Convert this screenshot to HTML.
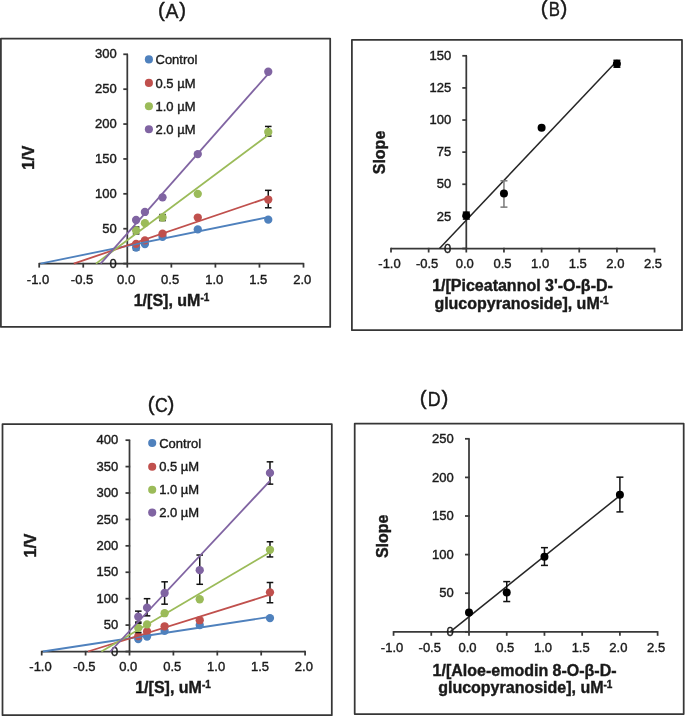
<!DOCTYPE html>
<html><head><meta charset="utf-8"><title>Lineweaver-Burk plots</title>
<style>
html,body{margin:0;padding:0;background:#fff;}
body{width:685px;height:716px;overflow:hidden;}
svg{display:block;font-family:"Liberation Sans", sans-serif;filter:blur(0.45px);}
svg text{stroke:#1a1a1a;stroke-width:0.4px;}
</style></head><body>
<svg width="685" height="716" viewBox="0 0 685 716">
<rect width="685" height="716" fill="#fff"/>
<rect x="0.9" y="38.5" width="329.3" height="288.4" fill="none" stroke="#363636" stroke-width="1.75" stroke-linejoin="round"/>
<line x1="39.2" y1="263.6" x2="303.5" y2="263.6" stroke="#383838" stroke-width="1.75"/>
<line x1="127.3" y1="263.6" x2="127.3" y2="54.29" stroke="#383838" stroke-width="1.75"/>
<line x1="39.2" y1="262.9" x2="39.2" y2="267.6" stroke="#383838" stroke-width="1.75"/>
<text x="38" y="283.6" font-size="13" text-anchor="middle" font-weight="normal" fill="#1a1a1a" >-1.0</text>
<line x1="83.25" y1="262.9" x2="83.25" y2="267.6" stroke="#383838" stroke-width="1.75"/>
<text x="82.05" y="283.6" font-size="13" text-anchor="middle" font-weight="normal" fill="#1a1a1a" >-0.5</text>
<line x1="127.3" y1="262.9" x2="127.3" y2="267.6" stroke="#383838" stroke-width="1.75"/>
<text x="126.1" y="283.6" font-size="13" text-anchor="middle" font-weight="normal" fill="#1a1a1a" >0.0</text>
<line x1="171.35" y1="262.9" x2="171.35" y2="267.6" stroke="#383838" stroke-width="1.75"/>
<text x="170.15" y="283.6" font-size="13" text-anchor="middle" font-weight="normal" fill="#1a1a1a" >0.5</text>
<line x1="215.4" y1="262.9" x2="215.4" y2="267.6" stroke="#383838" stroke-width="1.75"/>
<text x="214.2" y="283.6" font-size="13" text-anchor="middle" font-weight="normal" fill="#1a1a1a" >1.0</text>
<line x1="259.45" y1="262.9" x2="259.45" y2="267.6" stroke="#383838" stroke-width="1.75"/>
<text x="258.25" y="283.6" font-size="13" text-anchor="middle" font-weight="normal" fill="#1a1a1a" >1.5</text>
<line x1="303.5" y1="262.9" x2="303.5" y2="267.6" stroke="#383838" stroke-width="1.75"/>
<text x="302.3" y="283.6" font-size="13" text-anchor="middle" font-weight="normal" fill="#1a1a1a" >2.0</text>
<line x1="123.3" y1="263.6" x2="128" y2="263.6" stroke="#383838" stroke-width="1.75"/>
<text x="116.7" y="267.75" font-size="13" text-anchor="end" font-weight="normal" fill="#1a1a1a" >0</text>
<line x1="123.3" y1="228.72" x2="128" y2="228.72" stroke="#383838" stroke-width="1.75"/>
<text x="116.7" y="232.87" font-size="13" text-anchor="end" font-weight="normal" fill="#1a1a1a" >50</text>
<line x1="123.3" y1="193.83" x2="128" y2="193.83" stroke="#383838" stroke-width="1.75"/>
<text x="116.7" y="197.98" font-size="13" text-anchor="end" font-weight="normal" fill="#1a1a1a" >100</text>
<line x1="123.3" y1="158.95" x2="128" y2="158.95" stroke="#383838" stroke-width="1.75"/>
<text x="116.7" y="163.1" font-size="13" text-anchor="end" font-weight="normal" fill="#1a1a1a" >150</text>
<line x1="123.3" y1="124.06" x2="128" y2="124.06" stroke="#383838" stroke-width="1.75"/>
<text x="116.7" y="128.21" font-size="13" text-anchor="end" font-weight="normal" fill="#1a1a1a" >200</text>
<line x1="123.3" y1="89.18" x2="128" y2="89.18" stroke="#383838" stroke-width="1.75"/>
<text x="116.7" y="93.33" font-size="13" text-anchor="end" font-weight="normal" fill="#1a1a1a" >250</text>
<line x1="123.3" y1="54.29" x2="128" y2="54.29" stroke="#383838" stroke-width="1.75"/>
<text x="116.7" y="58.44" font-size="13" text-anchor="end" font-weight="normal" fill="#1a1a1a" >300</text>
<line x1="136.11" y1="249.99" x2="136.11" y2="245.11" stroke="#111" stroke-width="1.5"/>
<line x1="132.81" y1="249.99" x2="139.41" y2="249.99" stroke="#111" stroke-width="1.5"/>
<line x1="132.81" y1="245.11" x2="139.41" y2="245.11" stroke="#111" stroke-width="1.5"/>
<circle cx="136.11" cy="247.55" r="4.15" fill="#4F81BD"/>
<circle cx="144.92" cy="244.06" r="4.15" fill="#4F81BD"/>
<circle cx="162.54" cy="236.74" r="4.15" fill="#4F81BD"/>
<circle cx="197.78" cy="229.41" r="4.15" fill="#4F81BD"/>
<circle cx="268.26" cy="219.64" r="4.15" fill="#4F81BD"/>
<line x1="268.26" y1="207.78" x2="268.26" y2="190.34" stroke="#111" stroke-width="1.5"/>
<line x1="264.96" y1="207.78" x2="271.56" y2="207.78" stroke="#111" stroke-width="1.5"/>
<line x1="264.96" y1="190.34" x2="271.56" y2="190.34" stroke="#111" stroke-width="1.5"/>
<circle cx="136.11" cy="243.86" r="4.15" fill="#C0504D"/>
<circle cx="144.92" cy="240.37" r="4.15" fill="#C0504D"/>
<circle cx="162.54" cy="233.6" r="4.15" fill="#C0504D"/>
<circle cx="197.78" cy="217.55" r="4.15" fill="#C0504D"/>
<circle cx="268.26" cy="199.55" r="4.15" fill="#C0504D"/>
<line x1="268.26" y1="136.06" x2="268.26" y2="126.43" stroke="#111" stroke-width="1.5"/>
<line x1="264.96" y1="136.06" x2="271.56" y2="136.06" stroke="#111" stroke-width="1.5"/>
<line x1="264.96" y1="126.43" x2="271.56" y2="126.43" stroke="#111" stroke-width="1.5"/>
<line x1="136.11" y1="233.88" x2="136.11" y2="227.04" stroke="#111" stroke-width="1.5"/>
<line x1="132.81" y1="233.88" x2="139.41" y2="233.88" stroke="#111" stroke-width="1.5"/>
<line x1="132.81" y1="227.04" x2="139.41" y2="227.04" stroke="#111" stroke-width="1.5"/>
<line x1="162.54" y1="220.55" x2="162.54" y2="214.55" stroke="#111" stroke-width="1.5"/>
<line x1="159.24" y1="220.55" x2="165.84" y2="220.55" stroke="#111" stroke-width="1.5"/>
<line x1="159.24" y1="214.55" x2="165.84" y2="214.55" stroke="#111" stroke-width="1.5"/>
<circle cx="136.11" cy="230.46" r="4.15" fill="#9BBB59"/>
<circle cx="144.92" cy="223.13" r="4.15" fill="#9BBB59"/>
<circle cx="162.54" cy="217.55" r="4.15" fill="#9BBB59"/>
<circle cx="197.78" cy="193.83" r="4.15" fill="#9BBB59"/>
<circle cx="268.26" cy="132.01" r="4.15" fill="#9BBB59"/>
<circle cx="136.11" cy="219.99" r="4.15" fill="#8064A2"/>
<circle cx="144.92" cy="211.97" r="4.15" fill="#8064A2"/>
<circle cx="162.54" cy="197.32" r="4.15" fill="#8064A2"/>
<circle cx="197.78" cy="154.06" r="4.15" fill="#8064A2"/>
<circle cx="268.26" cy="71.73" r="4.15" fill="#8064A2"/>
<line x1="40.43" y1="263.6" x2="268.26" y2="217.2" stroke="#4F81BD" stroke-width="1.8"/>
<line x1="73.74" y1="263.6" x2="268.26" y2="197.67" stroke="#C0504D" stroke-width="1.8"/>
<line x1="95.94" y1="263.6" x2="268.26" y2="134.94" stroke="#9BBB59" stroke-width="1.8"/>
<line x1="100.69" y1="263.6" x2="268.26" y2="73.83" stroke="#8064A2" stroke-width="1.8"/>
<circle cx="148.9" cy="59.4" r="4.05" fill="#4F81BD"/>
<text x="155.5" y="64.05" font-size="13" text-anchor="start" font-weight="normal" fill="#1a1a1a" >Control</text>
<circle cx="148.9" cy="82.9" r="4.05" fill="#C0504D"/>
<text x="155.5" y="87.55" font-size="13" text-anchor="start" font-weight="normal" fill="#1a1a1a" >0.5 µM</text>
<circle cx="148.9" cy="106.2" r="4.05" fill="#9BBB59"/>
<text x="155.5" y="110.85" font-size="13" text-anchor="start" font-weight="normal" fill="#1a1a1a" >1.0 µM</text>
<circle cx="148.9" cy="129.3" r="4.05" fill="#8064A2"/>
<text x="155.5" y="133.95" font-size="13" text-anchor="start" font-weight="normal" fill="#1a1a1a" >2.0 µM</text>
<text x="171.5" y="305.7" font-size="16" font-weight="bold" text-anchor="middle" fill="#1a1a1a">1/[S], uM<tspan font-size="10" dy="-4.6">-1</tspan></text>
<text transform="translate(34.3,157.7) rotate(-90)" font-size="16" font-weight="bold" text-anchor="middle" fill="#1a1a1a">1/V</text>
<text x="161.5" y="17.2" font-size="20.5" text-anchor="middle" fill="#1a1a1a">(</text><text transform="translate(172.1,18.0) scale(0.95,1)" font-size="20.5" text-anchor="middle" fill="#1a1a1a">A</text><text x="182.6" y="17.2" font-size="20.5" text-anchor="middle" fill="#1a1a1a">)</text>
<rect x="351.9" y="39.8" width="330.1" height="290.4" fill="none" stroke="#363636" stroke-width="1.75" stroke-linejoin="round"/>
<line x1="391" y1="248.5" x2="654.55" y2="248.5" stroke="#383838" stroke-width="1.75"/>
<line x1="466.3" y1="248.5" x2="466.3" y2="55.8" stroke="#383838" stroke-width="1.75"/>
<line x1="391" y1="247.8" x2="391" y2="252.5" stroke="#383838" stroke-width="1.75"/>
<text x="389.5" y="267.7" font-size="13" text-anchor="middle" font-weight="normal" fill="#1a1a1a" >-1.0</text>
<line x1="428.65" y1="247.8" x2="428.65" y2="252.5" stroke="#383838" stroke-width="1.75"/>
<text x="427.15" y="267.7" font-size="13" text-anchor="middle" font-weight="normal" fill="#1a1a1a" >-0.5</text>
<line x1="466.3" y1="247.8" x2="466.3" y2="252.5" stroke="#383838" stroke-width="1.75"/>
<text x="464.8" y="267.7" font-size="13" text-anchor="middle" font-weight="normal" fill="#1a1a1a" >0.0</text>
<line x1="503.95" y1="247.8" x2="503.95" y2="252.5" stroke="#383838" stroke-width="1.75"/>
<text x="502.45" y="267.7" font-size="13" text-anchor="middle" font-weight="normal" fill="#1a1a1a" >0.5</text>
<line x1="541.6" y1="247.8" x2="541.6" y2="252.5" stroke="#383838" stroke-width="1.75"/>
<text x="540.1" y="267.7" font-size="13" text-anchor="middle" font-weight="normal" fill="#1a1a1a" >1.0</text>
<line x1="579.25" y1="247.8" x2="579.25" y2="252.5" stroke="#383838" stroke-width="1.75"/>
<text x="577.75" y="267.7" font-size="13" text-anchor="middle" font-weight="normal" fill="#1a1a1a" >1.5</text>
<line x1="616.9" y1="247.8" x2="616.9" y2="252.5" stroke="#383838" stroke-width="1.75"/>
<text x="615.4" y="267.7" font-size="13" text-anchor="middle" font-weight="normal" fill="#1a1a1a" >2.0</text>
<line x1="654.55" y1="247.8" x2="654.55" y2="252.5" stroke="#383838" stroke-width="1.75"/>
<text x="653.05" y="267.7" font-size="13" text-anchor="middle" font-weight="normal" fill="#1a1a1a" >2.5</text>
<line x1="462.3" y1="248.5" x2="467" y2="248.5" stroke="#383838" stroke-width="1.75"/>
<text x="451.3" y="252.65" font-size="13" text-anchor="end" font-weight="normal" fill="#1a1a1a" >0</text>
<line x1="462.3" y1="216.38" x2="467" y2="216.38" stroke="#383838" stroke-width="1.75"/>
<text x="451.3" y="220.54" font-size="13" text-anchor="end" font-weight="normal" fill="#1a1a1a" >25</text>
<line x1="462.3" y1="184.26" x2="467" y2="184.26" stroke="#383838" stroke-width="1.75"/>
<text x="451.3" y="188.42" font-size="13" text-anchor="end" font-weight="normal" fill="#1a1a1a" >50</text>
<line x1="462.3" y1="152.15" x2="467" y2="152.15" stroke="#383838" stroke-width="1.75"/>
<text x="451.3" y="156.3" font-size="13" text-anchor="end" font-weight="normal" fill="#1a1a1a" >75</text>
<line x1="462.3" y1="120.03" x2="467" y2="120.03" stroke="#383838" stroke-width="1.75"/>
<text x="451.3" y="124.18" font-size="13" text-anchor="end" font-weight="normal" fill="#1a1a1a" >100</text>
<line x1="462.3" y1="87.91" x2="467" y2="87.91" stroke="#383838" stroke-width="1.75"/>
<text x="451.3" y="92.07" font-size="13" text-anchor="end" font-weight="normal" fill="#1a1a1a" >125</text>
<line x1="462.3" y1="55.8" x2="467" y2="55.8" stroke="#383838" stroke-width="1.75"/>
<text x="451.3" y="59.95" font-size="13" text-anchor="end" font-weight="normal" fill="#1a1a1a" >150</text>
<line x1="439.49" y1="248.5" x2="616.9" y2="60.93" stroke="#262626" stroke-width="1.5"/>
<line x1="503.95" y1="207.13" x2="503.95" y2="180.8" stroke="#7a7a7a" stroke-width="1.5"/>
<line x1="500.45" y1="207.13" x2="507.45" y2="207.13" stroke="#7a7a7a" stroke-width="1.5"/>
<line x1="500.45" y1="180.8" x2="507.45" y2="180.8" stroke="#7a7a7a" stroke-width="1.5"/>
<line x1="466.3" y1="219.08" x2="466.3" y2="212.14" stroke="#111" stroke-width="1.5"/>
<line x1="462.8" y1="219.08" x2="469.8" y2="219.08" stroke="#111" stroke-width="1.5"/>
<line x1="462.8" y1="212.14" x2="469.8" y2="212.14" stroke="#111" stroke-width="1.5"/>
<line x1="616.9" y1="67.23" x2="616.9" y2="60.29" stroke="#111" stroke-width="1.5"/>
<line x1="613.4" y1="67.23" x2="620.4" y2="67.23" stroke="#111" stroke-width="1.5"/>
<line x1="613.4" y1="60.29" x2="620.4" y2="60.29" stroke="#111" stroke-width="1.5"/>
<circle cx="466.3" cy="215.61" r="4.0" fill="#000000"/>
<circle cx="503.95" cy="193.51" r="4.0" fill="#000000"/>
<circle cx="541.6" cy="127.74" r="4.0" fill="#000000"/>
<circle cx="616.9" cy="63.76" r="4.0" fill="#000000"/>
<text x="522.5" y="290.5" font-size="16" font-weight="bold" text-anchor="middle" fill="#1a1a1a">1/[Piceatannol 3'-O-β-D-</text>
<text x="521.5" y="308.9" font-size="16" font-weight="bold" text-anchor="middle" fill="#1a1a1a">glucopyranoside], uM<tspan font-size="10" dy="-4.6">-1</tspan></text>
<text transform="translate(385.3,152.5) rotate(-90)" font-size="16" font-weight="bold" text-anchor="middle" fill="#1a1a1a">Slope</text>
<text x="544.1" y="15.4" font-size="20.5" text-anchor="middle" fill="#1a1a1a">(</text><text transform="translate(554.4,16.2) scale(0.82,1)" font-size="20.5" text-anchor="middle" fill="#1a1a1a">B</text><text x="564.0" y="15.4" font-size="20.5" text-anchor="middle" fill="#1a1a1a">)</text>
<rect x="2.5" y="424" width="329.3" height="291.2" fill="none" stroke="#363636" stroke-width="1.75" stroke-linejoin="round"/>
<line x1="41.7" y1="651.5" x2="305.1" y2="651.5" stroke="#383838" stroke-width="1.75"/>
<line x1="129.5" y1="651.5" x2="129.5" y2="440.18" stroke="#383838" stroke-width="1.75"/>
<line x1="41.7" y1="650.8" x2="41.7" y2="655.5" stroke="#383838" stroke-width="1.75"/>
<text x="40.5" y="671.3" font-size="13" text-anchor="middle" font-weight="normal" fill="#1a1a1a" >-1.0</text>
<line x1="85.6" y1="650.8" x2="85.6" y2="655.5" stroke="#383838" stroke-width="1.75"/>
<text x="84.4" y="671.3" font-size="13" text-anchor="middle" font-weight="normal" fill="#1a1a1a" >-0.5</text>
<line x1="129.5" y1="650.8" x2="129.5" y2="655.5" stroke="#383838" stroke-width="1.75"/>
<text x="128.3" y="671.3" font-size="13" text-anchor="middle" font-weight="normal" fill="#1a1a1a" >0.0</text>
<line x1="173.4" y1="650.8" x2="173.4" y2="655.5" stroke="#383838" stroke-width="1.75"/>
<text x="172.2" y="671.3" font-size="13" text-anchor="middle" font-weight="normal" fill="#1a1a1a" >0.5</text>
<line x1="217.3" y1="650.8" x2="217.3" y2="655.5" stroke="#383838" stroke-width="1.75"/>
<text x="216.1" y="671.3" font-size="13" text-anchor="middle" font-weight="normal" fill="#1a1a1a" >1.0</text>
<line x1="261.2" y1="650.8" x2="261.2" y2="655.5" stroke="#383838" stroke-width="1.75"/>
<text x="260" y="671.3" font-size="13" text-anchor="middle" font-weight="normal" fill="#1a1a1a" >1.5</text>
<line x1="305.1" y1="650.8" x2="305.1" y2="655.5" stroke="#383838" stroke-width="1.75"/>
<text x="303.9" y="671.3" font-size="13" text-anchor="middle" font-weight="normal" fill="#1a1a1a" >2.0</text>
<line x1="125.5" y1="651.5" x2="130.2" y2="651.5" stroke="#383838" stroke-width="1.75"/>
<text x="118.2" y="655.65" font-size="13" text-anchor="end" font-weight="normal" fill="#1a1a1a" >0</text>
<line x1="125.5" y1="625.09" x2="130.2" y2="625.09" stroke="#383838" stroke-width="1.75"/>
<text x="118.2" y="629.24" font-size="13" text-anchor="end" font-weight="normal" fill="#1a1a1a" >50</text>
<line x1="125.5" y1="598.67" x2="130.2" y2="598.67" stroke="#383838" stroke-width="1.75"/>
<text x="118.2" y="602.82" font-size="13" text-anchor="end" font-weight="normal" fill="#1a1a1a" >100</text>
<line x1="125.5" y1="572.25" x2="130.2" y2="572.25" stroke="#383838" stroke-width="1.75"/>
<text x="118.2" y="576.41" font-size="13" text-anchor="end" font-weight="normal" fill="#1a1a1a" >150</text>
<line x1="125.5" y1="545.84" x2="130.2" y2="545.84" stroke="#383838" stroke-width="1.75"/>
<text x="118.2" y="549.99" font-size="13" text-anchor="end" font-weight="normal" fill="#1a1a1a" >200</text>
<line x1="125.5" y1="519.42" x2="130.2" y2="519.42" stroke="#383838" stroke-width="1.75"/>
<text x="118.2" y="523.58" font-size="13" text-anchor="end" font-weight="normal" fill="#1a1a1a" >250</text>
<line x1="125.5" y1="493.01" x2="130.2" y2="493.01" stroke="#383838" stroke-width="1.75"/>
<text x="118.2" y="497.16" font-size="13" text-anchor="end" font-weight="normal" fill="#1a1a1a" >300</text>
<line x1="125.5" y1="466.6" x2="130.2" y2="466.6" stroke="#383838" stroke-width="1.75"/>
<text x="118.2" y="470.75" font-size="13" text-anchor="end" font-weight="normal" fill="#1a1a1a" >350</text>
<line x1="125.5" y1="440.18" x2="130.2" y2="440.18" stroke="#383838" stroke-width="1.75"/>
<text x="118.2" y="444.33" font-size="13" text-anchor="end" font-weight="normal" fill="#1a1a1a" >400</text>
<circle cx="138.28" cy="639.03" r="4.15" fill="#4F81BD"/>
<circle cx="147.06" cy="636.55" r="4.15" fill="#4F81BD"/>
<circle cx="164.62" cy="630.9" r="4.15" fill="#4F81BD"/>
<circle cx="199.74" cy="625.09" r="4.15" fill="#4F81BD"/>
<circle cx="269.98" cy="618.11" r="4.15" fill="#4F81BD"/>
<line x1="269.98" y1="602.74" x2="269.98" y2="582.5" stroke="#111" stroke-width="1.5"/>
<line x1="266.68" y1="602.74" x2="273.28" y2="602.74" stroke="#111" stroke-width="1.5"/>
<line x1="266.68" y1="582.5" x2="273.28" y2="582.5" stroke="#111" stroke-width="1.5"/>
<circle cx="138.28" cy="636.07" r="4.15" fill="#C0504D"/>
<circle cx="147.06" cy="631.42" r="4.15" fill="#C0504D"/>
<circle cx="164.62" cy="626.3" r="4.15" fill="#C0504D"/>
<circle cx="199.74" cy="620.22" r="4.15" fill="#C0504D"/>
<circle cx="269.98" cy="592.33" r="4.15" fill="#C0504D"/>
<line x1="269.98" y1="556.93" x2="269.98" y2="541.77" stroke="#111" stroke-width="1.5"/>
<line x1="266.68" y1="556.93" x2="273.28" y2="556.93" stroke="#111" stroke-width="1.5"/>
<line x1="266.68" y1="541.77" x2="273.28" y2="541.77" stroke="#111" stroke-width="1.5"/>
<line x1="138.28" y1="632.48" x2="138.28" y2="623.29" stroke="#111" stroke-width="1.5"/>
<line x1="134.98" y1="632.48" x2="141.58" y2="632.48" stroke="#111" stroke-width="1.5"/>
<line x1="134.98" y1="623.29" x2="141.58" y2="623.29" stroke="#111" stroke-width="1.5"/>
<circle cx="138.28" cy="627.88" r="4.15" fill="#9BBB59"/>
<circle cx="147.06" cy="624.4" r="4.15" fill="#9BBB59"/>
<circle cx="164.62" cy="613.2" r="4.15" fill="#9BBB59"/>
<circle cx="199.74" cy="599.25" r="4.15" fill="#9BBB59"/>
<circle cx="269.98" cy="549.8" r="4.15" fill="#9BBB59"/>
<line x1="138.28" y1="622.07" x2="138.28" y2="611.14" stroke="#111" stroke-width="1.5"/>
<line x1="134.98" y1="622.07" x2="141.58" y2="622.07" stroke="#111" stroke-width="1.5"/>
<line x1="134.98" y1="611.14" x2="141.58" y2="611.14" stroke="#111" stroke-width="1.5"/>
<line x1="147.06" y1="615.84" x2="147.06" y2="598.67" stroke="#111" stroke-width="1.5"/>
<line x1="143.76" y1="615.84" x2="150.36" y2="615.84" stroke="#111" stroke-width="1.5"/>
<line x1="143.76" y1="598.67" x2="150.36" y2="598.67" stroke="#111" stroke-width="1.5"/>
<line x1="164.62" y1="604.16" x2="164.62" y2="581.82" stroke="#111" stroke-width="1.5"/>
<line x1="161.32" y1="604.16" x2="167.92" y2="604.16" stroke="#111" stroke-width="1.5"/>
<line x1="161.32" y1="581.82" x2="167.92" y2="581.82" stroke="#111" stroke-width="1.5"/>
<line x1="199.74" y1="584.3" x2="199.74" y2="555.03" stroke="#111" stroke-width="1.5"/>
<line x1="196.44" y1="584.3" x2="203.04" y2="584.3" stroke="#111" stroke-width="1.5"/>
<line x1="196.44" y1="555.03" x2="203.04" y2="555.03" stroke="#111" stroke-width="1.5"/>
<line x1="269.98" y1="484.13" x2="269.98" y2="461.84" stroke="#111" stroke-width="1.5"/>
<line x1="266.68" y1="484.13" x2="273.28" y2="484.13" stroke="#111" stroke-width="1.5"/>
<line x1="266.68" y1="461.84" x2="273.28" y2="461.84" stroke="#111" stroke-width="1.5"/>
<circle cx="138.28" cy="616.74" r="4.15" fill="#8064A2"/>
<circle cx="147.06" cy="607.65" r="4.15" fill="#8064A2"/>
<circle cx="164.62" cy="592.96" r="4.15" fill="#8064A2"/>
<circle cx="199.74" cy="570.14" r="4.15" fill="#8064A2"/>
<circle cx="269.98" cy="472.93" r="4.15" fill="#8064A2"/>
<line x1="42.93" y1="651.5" x2="269.98" y2="616.95" stroke="#4F81BD" stroke-width="1.8"/>
<line x1="87.97" y1="651.5" x2="269.98" y2="594.71" stroke="#C0504D" stroke-width="1.8"/>
<line x1="101.4" y1="651.5" x2="269.98" y2="552.18" stroke="#9BBB59" stroke-width="1.8"/>
<line x1="110.36" y1="651.5" x2="269.98" y2="480.86" stroke="#8064A2" stroke-width="1.8"/>
<circle cx="152.2" cy="443" r="4.05" fill="#4F81BD"/>
<text x="159.2" y="447.65" font-size="13" text-anchor="start" font-weight="normal" fill="#1a1a1a" >Control</text>
<circle cx="152.2" cy="466.7" r="4.05" fill="#C0504D"/>
<text x="159.2" y="471.35" font-size="13" text-anchor="start" font-weight="normal" fill="#1a1a1a" >0.5 µM</text>
<circle cx="152.2" cy="489.8" r="4.05" fill="#9BBB59"/>
<text x="159.2" y="494.45" font-size="13" text-anchor="start" font-weight="normal" fill="#1a1a1a" >1.0 µM</text>
<circle cx="152.2" cy="512.6" r="4.05" fill="#8064A2"/>
<text x="159.2" y="517.25" font-size="13" text-anchor="start" font-weight="normal" fill="#1a1a1a" >2.0 µM</text>
<text x="173" y="692.8" font-size="16" font-weight="bold" text-anchor="middle" fill="#1a1a1a">1/[S], uM<tspan font-size="10" dy="-4.6">-1</tspan></text>
<text transform="translate(36.2,545.5) rotate(-90)" font-size="16" font-weight="bold" text-anchor="middle" fill="#1a1a1a">1/V</text>
<text x="151.1" y="410.7" font-size="20.5" text-anchor="middle" fill="#1a1a1a">(</text><text transform="translate(161.3,411.5) scale(0.86,1)" font-size="20.5" text-anchor="middle" fill="#1a1a1a">C</text><text x="171.0" y="410.7" font-size="20.5" text-anchor="middle" fill="#1a1a1a">)</text>
<rect x="354.7" y="423.5" width="329" height="290.5" fill="none" stroke="#363636" stroke-width="1.75" stroke-linejoin="round"/>
<line x1="393.55" y1="631.8" x2="657.62" y2="631.8" stroke="#383838" stroke-width="1.75"/>
<line x1="469" y1="631.8" x2="469" y2="438.8" stroke="#383838" stroke-width="1.75"/>
<line x1="393.55" y1="631.1" x2="393.55" y2="635.8" stroke="#383838" stroke-width="1.75"/>
<text x="392.05" y="651.5" font-size="13" text-anchor="middle" font-weight="normal" fill="#1a1a1a" >-1.0</text>
<line x1="431.27" y1="631.1" x2="431.27" y2="635.8" stroke="#383838" stroke-width="1.75"/>
<text x="429.77" y="651.5" font-size="13" text-anchor="middle" font-weight="normal" fill="#1a1a1a" >-0.5</text>
<line x1="469" y1="631.1" x2="469" y2="635.8" stroke="#383838" stroke-width="1.75"/>
<text x="467.5" y="651.5" font-size="13" text-anchor="middle" font-weight="normal" fill="#1a1a1a" >0.0</text>
<line x1="506.73" y1="631.1" x2="506.73" y2="635.8" stroke="#383838" stroke-width="1.75"/>
<text x="505.23" y="651.5" font-size="13" text-anchor="middle" font-weight="normal" fill="#1a1a1a" >0.5</text>
<line x1="544.45" y1="631.1" x2="544.45" y2="635.8" stroke="#383838" stroke-width="1.75"/>
<text x="542.95" y="651.5" font-size="13" text-anchor="middle" font-weight="normal" fill="#1a1a1a" >1.0</text>
<line x1="582.17" y1="631.1" x2="582.17" y2="635.8" stroke="#383838" stroke-width="1.75"/>
<text x="580.67" y="651.5" font-size="13" text-anchor="middle" font-weight="normal" fill="#1a1a1a" >1.5</text>
<line x1="619.9" y1="631.1" x2="619.9" y2="635.8" stroke="#383838" stroke-width="1.75"/>
<text x="618.4" y="651.5" font-size="13" text-anchor="middle" font-weight="normal" fill="#1a1a1a" >2.0</text>
<line x1="657.62" y1="631.1" x2="657.62" y2="635.8" stroke="#383838" stroke-width="1.75"/>
<text x="656.12" y="651.5" font-size="13" text-anchor="middle" font-weight="normal" fill="#1a1a1a" >2.5</text>
<line x1="465" y1="631.8" x2="469.7" y2="631.8" stroke="#383838" stroke-width="1.75"/>
<text x="453.7" y="635.95" font-size="13" text-anchor="end" font-weight="normal" fill="#1a1a1a" >0</text>
<line x1="465" y1="593.2" x2="469.7" y2="593.2" stroke="#383838" stroke-width="1.75"/>
<text x="453.7" y="597.35" font-size="13" text-anchor="end" font-weight="normal" fill="#1a1a1a" >50</text>
<line x1="465" y1="554.6" x2="469.7" y2="554.6" stroke="#383838" stroke-width="1.75"/>
<text x="453.7" y="558.75" font-size="13" text-anchor="end" font-weight="normal" fill="#1a1a1a" >100</text>
<line x1="465" y1="516" x2="469.7" y2="516" stroke="#383838" stroke-width="1.75"/>
<text x="453.7" y="520.15" font-size="13" text-anchor="end" font-weight="normal" fill="#1a1a1a" >150</text>
<line x1="465" y1="477.4" x2="469.7" y2="477.4" stroke="#383838" stroke-width="1.75"/>
<text x="453.7" y="481.55" font-size="13" text-anchor="end" font-weight="normal" fill="#1a1a1a" >200</text>
<line x1="465" y1="438.8" x2="469.7" y2="438.8" stroke="#383838" stroke-width="1.75"/>
<text x="453.7" y="442.95" font-size="13" text-anchor="end" font-weight="normal" fill="#1a1a1a" >250</text>
<line x1="450.14" y1="631.8" x2="619.9" y2="495.62" stroke="#262626" stroke-width="1.5"/>
<line x1="506.73" y1="601.54" x2="506.73" y2="581.62" stroke="#111" stroke-width="1.5"/>
<line x1="503.23" y1="601.54" x2="510.23" y2="601.54" stroke="#111" stroke-width="1.5"/>
<line x1="503.23" y1="581.62" x2="510.23" y2="581.62" stroke="#111" stroke-width="1.5"/>
<line x1="544.45" y1="565.41" x2="544.45" y2="547.65" stroke="#111" stroke-width="1.5"/>
<line x1="540.95" y1="565.41" x2="547.95" y2="565.41" stroke="#111" stroke-width="1.5"/>
<line x1="540.95" y1="547.65" x2="547.95" y2="547.65" stroke="#111" stroke-width="1.5"/>
<line x1="619.9" y1="511.91" x2="619.9" y2="477.17" stroke="#111" stroke-width="1.5"/>
<line x1="616.4" y1="511.91" x2="623.4" y2="511.91" stroke="#111" stroke-width="1.5"/>
<line x1="616.4" y1="477.17" x2="623.4" y2="477.17" stroke="#111" stroke-width="1.5"/>
<circle cx="469" cy="612.58" r="4.0" fill="#000000"/>
<circle cx="506.73" cy="592.43" r="4.0" fill="#000000"/>
<circle cx="544.45" cy="556.68" r="4.0" fill="#000000"/>
<circle cx="619.9" cy="494.69" r="4.0" fill="#000000"/>
<text x="524.6" y="675.7" font-size="16" font-weight="bold" text-anchor="middle" fill="#1a1a1a">1/[Aloe-emodin 8-O-β-D-</text>
<text x="525.3" y="692.7" font-size="16" font-weight="bold" text-anchor="middle" fill="#1a1a1a">glucopyranoside], uM<tspan font-size="10" dy="-4.6">-1</tspan></text>
<text transform="translate(388,536.3) rotate(-90)" font-size="16" font-weight="bold" text-anchor="middle" fill="#1a1a1a">Slope</text>
<text x="423.2" y="405.0" font-size="20.5" text-anchor="middle" fill="#1a1a1a">(</text><text transform="translate(434.3,405.8) scale(0.87,1)" font-size="20.5" text-anchor="middle" fill="#1a1a1a">D</text><text x="444.8" y="405.0" font-size="20.5" text-anchor="middle" fill="#1a1a1a">)</text>
</svg>
</body></html>
